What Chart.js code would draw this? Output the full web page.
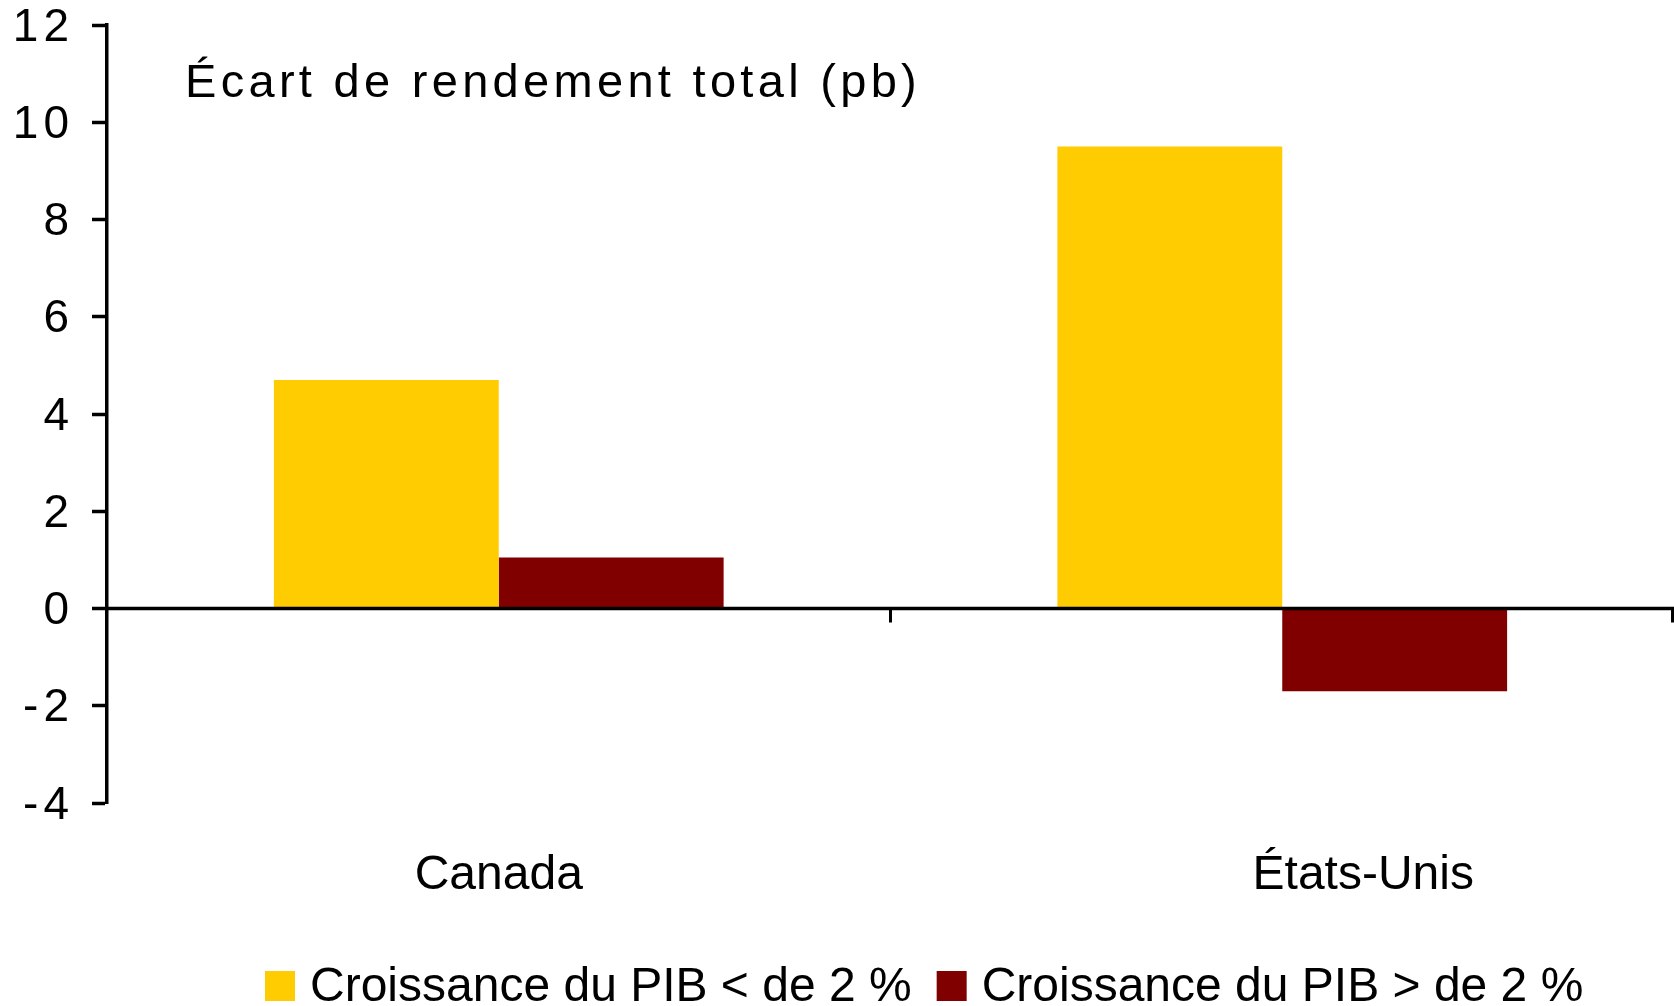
<!DOCTYPE html>
<html>
<head>
<meta charset="utf-8">
<script src="https://cdn.jsdelivr.net/npm/chart.js@4.4.0/dist/chart.umd.min.js"></script>
<style>
  html, body { margin: 0; padding: 0; background: #fff; overflow: hidden; }
  #wrap { width: 1674px; height: 1006px; position: relative; }
</style>
</head>
<body>
<div id="wrap"><canvas id="chart"></canvas></div>
<script>
// Chart data
const categories = ['Canada', 'États-Unis'];
const seriesNames = ['Croissance du PIB < de 2 %', 'Croissance du PIB > de 2 %'];
const lowGrowth = [4.7, 9.5];
const highGrowth = [1.05, -1.7];
const yTickValues = [-4, -2, 0, 2, 4, 6, 8, 10, 12];
const chartTitle = 'Écart de rendement total (pb)';

const colors = ['#FECC00', '#800000'];

// Extra drawing: zero line, category ticks, labels, title, legend
const decor = {
  id: 'decor',
  beforeDraw(chart) {
    chart.ctx.letterSpacing = '5px';
  },
  afterDatasetsDraw(chart) {
    const { ctx, chartArea, scales: { x, y } } = chart;
    ctx.save();
    ctx.letterSpacing = '0px';

    // zero line + category boundary ticks
    const y0 = y.getPixelForValue(0);
    ctx.strokeStyle = '#000';
    ctx.lineWidth = 3.5;
    ctx.beginPath();
    ctx.moveTo(chartArea.left, y0);
    ctx.lineTo(chartArea.right, y0);
    ctx.stroke();
    ctx.lineWidth = 3;
    ctx.beginPath();
    for (let i = 1; i <= categories.length; i++) {
      let px;
      if (i < categories.length) {
        px = (x.getPixelForValue(i - 1) + x.getPixelForValue(i)) / 2;
      } else {
        px = chartArea.right - 1.5;
      }
      ctx.moveTo(px, y0);
      ctx.lineTo(px, y0 + 14);
    }
    ctx.stroke();

    // category labels
    const shift = [0, 81];
    ctx.fillStyle = '#000';
    ctx.font = '48px "Liberation Sans", Arial, sans-serif';
    ctx.textAlign = 'center';
    ctx.textBaseline = 'alphabetic';
    categories.forEach((c, i) => {
      ctx.fillText(c, x.getPixelForValue(i) + shift[i], 889);
    });

    // title inside the plot
    ctx.letterSpacing = '4.3px';
    ctx.font = '47px "Liberation Sans", Arial, sans-serif';
    ctx.textAlign = 'left';
    ctx.fillText(chartTitle, 185, 97);

    // legend
    ctx.letterSpacing = '0px';
    ctx.font = '48px "Liberation Sans", Arial, sans-serif';
    let lx = 265;
    seriesNames.forEach((name, i) => {
      ctx.fillStyle = colors[i];
      ctx.fillRect(lx, 971, 30, 30);
      ctx.fillStyle = '#000';
      ctx.fillText(name, lx + 45, 1001);
      lx += 45 + ctx.measureText(name).width + 25;
    });

    ctx.restore();
  }
};

const ctx = document.getElementById('chart').getContext('2d');
const chart = new Chart(ctx, {
  type: 'bar',
  data: {
    labels: categories,
    datasets: [
      {
        label: seriesNames[0],
        data: lowGrowth,
        backgroundColor: colors[0],
        barPercentage: 1,
        categoryPercentage: 0.574
      },
      {
        label: seriesNames[1],
        data: highGrowth,
        backgroundColor: colors[1],
        barPercentage: 1,
        categoryPercentage: 0.574
      }
    ]
  },
  options: {
    responsive: true,
    maintainAspectRatio: false,
    animation: false,
    devicePixelRatio: 1,
    layout: {
      padding: { top: 25, right: 0, bottom: 203, left: 0 }
    },
    plugins: {
      legend: { display: false },
      tooltip: { enabled: false }
    },
    scales: {
      x: {
        display: false
      },
      y: {
        min: -4,
        max: 12,
        afterBuildTicks(scale) {
          scale.ticks = yTickValues.map(v => ({ value: v }));
        },
        afterFit(scale) {
          scale.width = 107;
          scale.paddingTop = 0;
          scale.paddingBottom = 0;
        },
        border: { display: true, color: '#000', width: 3.5 },
        grid: {
          drawOnChartArea: false,
          drawTicks: true,
          tickLength: 15,
          tickColor: '#000',
          tickWidth: 3.5
        },
        ticks: {
          color: '#000',
          padding: 18,
          labelOffset: 3,
          font: { family: '"Liberation Sans", Arial, sans-serif', size: 46, lineHeight: 1 }
        }
      }
    }
  },
  plugins: [decor]
});
</script>
</body>
</html>
